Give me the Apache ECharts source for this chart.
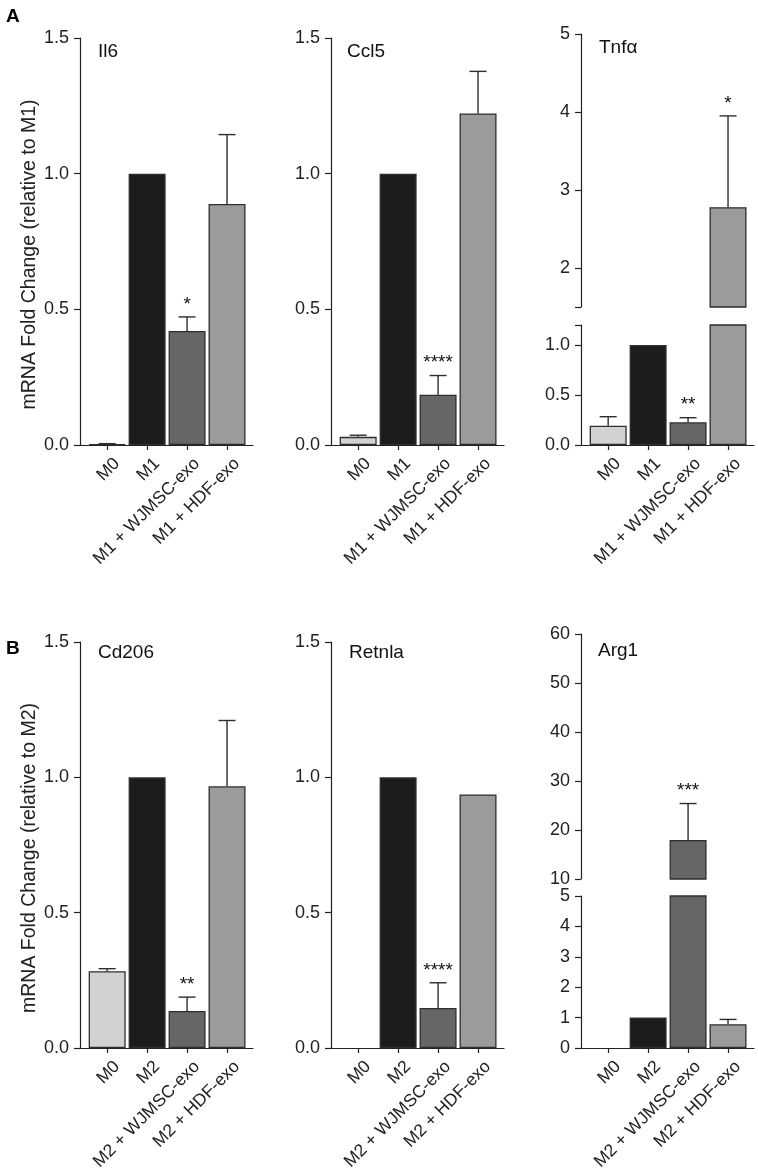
<!DOCTYPE html>
<html><head><meta charset="utf-8">
<script src="https://cdn.jsdelivr.net/npm/echarts@6/dist/echarts.min.js"></script>
<style>html,body{margin:0;padding:0;background:#fff}#c{width:758px;height:1174px}</style>
</head><body><div id="c"></div>
<script>
// ---- data ----
const categoriesA = ['M0', 'M1', 'M1 + WJMSC-exo', 'M1 + HDF-exo'];
const categoriesB = ['M0', 'M2', 'M2 + WJMSC-exo', 'M2 + HDF-exo'];

const il6Mean = [0.003, 1.0, 0.42, 0.888];
const il6Sem  = [0.002, 0, 0.052, 0.256];
const il6Sig  = ['', '', '*', ''];

const ccl5Mean = [0.03, 1.0, 0.185, 1.222];
const ccl5Sem  = [0.006, 0, 0.071, 0.155];
const ccl5Sig  = ['', '', '****', ''];

const tnfMean = [0.193, 1.0, 0.227, 2.78];
const tnfSem  = [0.09, 0, 0.046, 1.17];
const tnfSig  = ['', '', '**', '*'];

const cd206Mean = [0.284, 1.0, 0.137, 0.967];
const cd206Sem  = [0.009, 0, 0.051, 0.243];
const cd206Sig  = ['', '', '**', ''];

const retnlaMean = [0, 1.0, 0.148, 0.937];
const retnlaSem  = [0, 0, 0.093, 0];
const retnlaSig  = ['', '', '****', ''];

const arg1Mean = [0, 1.0, 17.96, 0.78];
const arg1Sem  = [0, 0, 7.44, 0.16];
const arg1Sig  = ['', '', '***', ''];

const stdTicks = [0, 0.5, 1.0, 1.5];
const tnfLowerTicks = [0, 0.5, 1.0, 1.2];
const tnfLowerLabels = [0, 0.5, 1.0];
const tnfUpperTicks = [1.5, 2, 3, 4, 5];
const tnfUpperLabels = [2, 3, 4, 5];
const arg1LowerTicks = [0, 1, 2, 3, 4, 5];
const arg1UpperTicks = [10, 20, 30, 40, 50, 60];
const catIndex = [0, 1, 2, 3];

// ---- styles ----
const FONT = 'Liberation Sans, Arial, sans-serif';
const INK = '#222';
const barColors = ['#d2d2d2', '#1c1c1c', '#666666', '#9b9b9b'];

const grids = [
  {left: 80,  top: 38,  width: 173, height: 407}, // 0 Il6
  {left: 331, top: 38,  width: 173, height: 407}, // 1 Ccl5
  {left: 581, top: 325, width: 173, height: 120}, // 2 Tnf lower
  {left: 581, top: 34,  width: 173, height: 273}, // 3 Tnf upper
  {left: 80,  top: 642, width: 173, height: 406}, // 4 Cd206
  {left: 331, top: 642, width: 173, height: 406}, // 5 Retnla
  {left: 581, top: 896, width: 173, height: 152}, // 6 Arg1 lower
  {left: 581, top: 634, width: 173, height: 245}  // 7 Arg1 upper
];

function xAxisFor(gi, cats, show) {
  return {
    type: 'value', gridIndex: gi, min: -0.68, max: 3.65, show: show,
    axisLine: {show: true, onZero: false, lineStyle: {color: INK, width: 1.2}},
    axisTick: {show: true, length: 5, customValues: catIndex, lineStyle: {color: INK, width: 1.2}},
    axisLabel: {
      customValues: catIndex, rotate: 45, margin: 6, fontSize: 17.5, color: INK, fontFamily: FONT,
      align: 'right', verticalAlign: 'top', padding: [5, 0, 0, 0],
      formatter: v => cats[Math.round(v)]
    },
    splitLine: {show: false}
  };
}
function yAxisFor(gi, min, max, ticks, labels, fmt, name) {
  return {
    type: 'value', gridIndex: gi, min: min, max: max,
    axisLine: {show: true, onZero: false, lineStyle: {color: INK, width: 1.2}},
    axisTick: {show: true, length: 6, customValues: ticks, lineStyle: {color: INK, width: 1.2}},
    axisLabel: {customValues: labels, margin: 11, fontSize: 18, color: INK, fontFamily: FONT, formatter: fmt},
    splitLine: {show: false},
    name: name || '', nameLocation: 'middle', nameGap: 37, nameRotate: 90,
    nameTextStyle: {fontSize: 19.5, color: INK, fontFamily: FONT, padding: [0, 26, 0, 0]}
  };
}
const f1 = v => v.toFixed(1);
const f0 = v => String(Math.round(v));

function barSeries(gi, mean, lo) {
  return {
    type: 'bar', xAxisIndex: gi, yAxisIndex: gi, barWidth: 37, clip: true,
    data: mean.map((v, i) => ({
      value: [i, (lo > 0 && v < lo) ? '-' : v],
      itemStyle: {color: barColors[i], borderColor: '#2e2e2e', borderWidth: v === 0 ? 0 : 1.3}
    }))
  };
}
function errSeries(gi, mean, sem, sig, lo, hi) {
  return {
    type: 'custom', xAxisIndex: gi, yAxisIndex: gi, z: 5, silent: true,
    data: mean.map((m, i) => [i, m, sem[i]]),
    renderItem(params, api) {
      const i = api.value(0), m = api.value(1), s = api.value(2);
      if (m < lo || m > hi) return null;
      const b = api.coord([i, m]), t = api.coord([i, m + s]);
      const ch = [];
      const ls = {stroke: '#2e2e2e', lineWidth: 1.4};
      if (s > 0) {
        ch.push({type: 'line', shape: {x1: b[0], y1: b[1], x2: t[0], y2: t[1]}, style: ls});
        ch.push({type: 'line', shape: {x1: t[0] - 8.5, y1: t[1], x2: t[0] + 8.5, y2: t[1]}, style: ls});
      }
      const star = sig[params.dataIndex];
      if (star) {
        ch.push({type: 'text', style: {text: star, x: t[0], y: t[1] - 3, align: 'center',
          verticalAlign: 'bottom', font: '19px ' + FONT, fill: '#111'}});
      }
      return {type: 'group', children: ch};
    }
  };
}

const titleStyle = {fontSize: 19, fontWeight: 'normal', color: '#111', fontFamily: FONT};
const letterStyle = {fontSize: 19, fontWeight: 'bold', color: '#000', fontFamily: FONT};
const option = {
  animation: false,
  backgroundColor: '#fff',
  title: [
    {text: 'A', left: 1, top: 2, textStyle: letterStyle},
    {text: 'B', left: 1, top: 634, textStyle: letterStyle},
    {text: 'Il6', left: 93, top: 37, textStyle: titleStyle},
    {text: 'Ccl5', left: 342, top: 37, textStyle: titleStyle},
    {text: 'Tnfα', left: 594, top: 33, textStyle: titleStyle},
    {text: 'Cd206', left: 93, top: 638, textStyle: titleStyle},
    {text: 'Retnla', left: 344, top: 638, textStyle: titleStyle},
    {text: 'Arg1', left: 593, top: 636, textStyle: titleStyle}
  ],
  grid: grids,
  xAxis: [
    xAxisFor(0, categoriesA, true),
    xAxisFor(1, categoriesA, true),
    xAxisFor(2, categoriesA, true),
    xAxisFor(3, categoriesA, false),
    xAxisFor(4, categoriesB, true),
    xAxisFor(5, categoriesB, true),
    xAxisFor(6, categoriesB, true),
    xAxisFor(7, categoriesB, false)
  ],
  yAxis: [
    yAxisFor(0, 0, 1.5, stdTicks, stdTicks, f1, 'mRNA Fold Change (relative to M1)'),
    yAxisFor(1, 0, 1.5, stdTicks, stdTicks, f1),
    yAxisFor(2, 0, 1.2, tnfLowerTicks, tnfLowerLabels, f1),
    yAxisFor(3, 1.5, 5, tnfUpperTicks, tnfUpperLabels, f0),
    yAxisFor(4, 0, 1.5, stdTicks, stdTicks, f1, 'mRNA Fold Change (relative to M2)'),
    yAxisFor(5, 0, 1.5, stdTicks, stdTicks, f1),
    yAxisFor(6, 0, 5, arg1LowerTicks, arg1LowerTicks, f0),
    yAxisFor(7, 10, 60, arg1UpperTicks, arg1UpperTicks, f0)
  ],
  series: [
    barSeries(0, il6Mean, 0), errSeries(0, il6Mean, il6Sem, il6Sig, 0, 1.5),
    barSeries(1, ccl5Mean, 0), errSeries(1, ccl5Mean, ccl5Sem, ccl5Sig, 0, 1.5),
    barSeries(2, tnfMean, 0), errSeries(2, tnfMean, tnfSem, tnfSig, 0, 1.2),
    barSeries(3, tnfMean, 1.5), errSeries(3, tnfMean, tnfSem, tnfSig, 1.5, 5),
    barSeries(4, cd206Mean, 0), errSeries(4, cd206Mean, cd206Sem, cd206Sig, 0, 1.5),
    barSeries(5, retnlaMean, 0), errSeries(5, retnlaMean, retnlaSem, retnlaSig, 0, 1.5),
    barSeries(6, arg1Mean, 0), errSeries(6, arg1Mean, arg1Sem, arg1Sig, 0, 5),
    barSeries(7, arg1Mean, 10), errSeries(7, arg1Mean, arg1Sem, arg1Sig, 10, 60)
  ]
};
const chart = echarts.init(document.getElementById('c'), null, {renderer: 'canvas'});
chart.setOption(option);
</script>
</body></html>
